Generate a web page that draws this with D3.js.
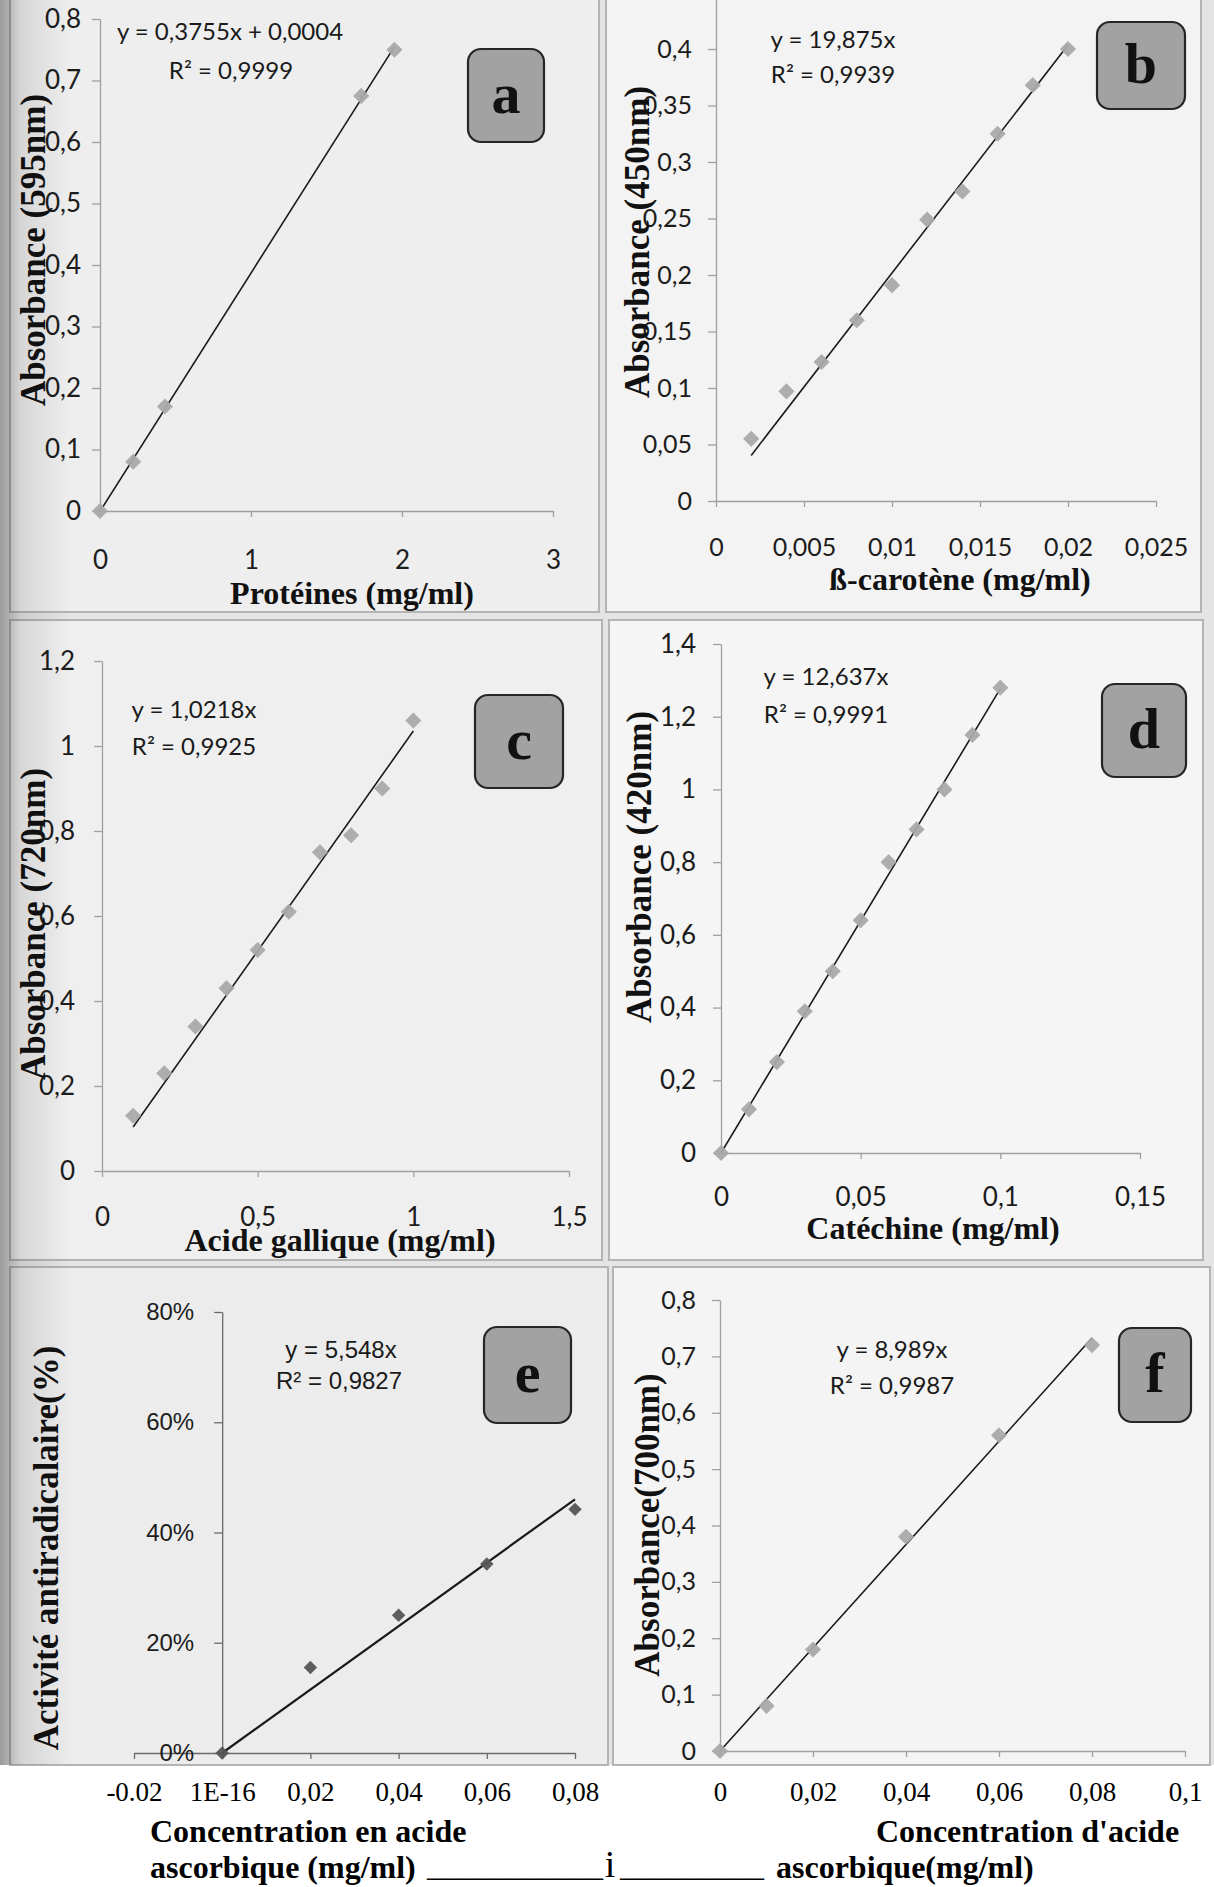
<!DOCTYPE html>
<html>
<head>
<meta charset="utf-8">
<script src="https://cdn.jsdelivr.net/npm/d3@7"></script>
<style>
  body { margin: 0; background: #fff; }
  svg { display: block; }
</style>
</head>
<body>
<div id="chart-area"></div>
<script>
// ---- data ----
// a : proteins (Bradford, 595 nm)
const protX = [0, 0.22, 0.43, 1.73, 1.95];
const protY = [0, 0.08, 0.17, 0.675, 0.75];
// b : beta-carotene (450 nm)
const caroX = [0.002, 0.004, 0.006, 0.008, 0.01, 0.012, 0.014, 0.016, 0.018, 0.02];
const caroY = [0.055, 0.097, 0.123, 0.16, 0.191, 0.249, 0.274, 0.325, 0.368, 0.40];
// c : gallic acid (720 nm)
const gallX = [0.1, 0.2, 0.3, 0.4, 0.5, 0.6, 0.7, 0.8, 0.9, 1.0];
const gallY = [0.13, 0.23, 0.34, 0.43, 0.52, 0.61, 0.75, 0.79, 0.90, 1.06];
// d : catechin (420 nm)
const catX = [0, 0.01, 0.02, 0.03, 0.04, 0.05, 0.06, 0.07, 0.08, 0.09, 0.1];
const catY = [0, 0.12, 0.25, 0.39, 0.50, 0.64, 0.80, 0.89, 1.00, 1.15, 1.28];
// e : antiradical activity of ascorbic acid
const dpphX = [0, 0.02, 0.04, 0.06, 0.08];
const dpphY = [0, 0.155, 0.25, 0.343, 0.442];
// f : reducing power of ascorbic acid (700 nm)
const redX = [0, 0.01, 0.02, 0.04, 0.06, 0.08];
const redY = [0, 0.08, 0.18, 0.38, 0.56, 0.72];

// tick values
const ticksAx = [0, 1, 2, 3];
const ticksAy = [0, 0.1, 0.2, 0.3, 0.4, 0.5, 0.6, 0.7, 0.8];
const ticksBx = [0, 0.005, 0.01, 0.015, 0.02, 0.025];
const ticksBy = [0, 0.05, 0.1, 0.15, 0.2, 0.25, 0.3, 0.35, 0.4];
const ticksCx = [0, 0.5, 1, 1.5];
const ticksCy = [0, 0.2, 0.4, 0.6, 0.8, 1, 1.2];
const ticksDx = [0, 0.05, 0.1, 0.15];
const ticksDy = [0, 0.2, 0.4, 0.6, 0.8, 1, 1.2, 1.4];
const ticksEx = [-0.02, 0, 0.02, 0.04, 0.06, 0.08];
const labelsEx = ["-0.02", "1E-16", "0,02", "0,04", "0,06", "0,08"];
const ticksEy = [0, 0.2, 0.4, 0.6, 0.8];
const ticksFx = [0, 0.02, 0.04, 0.06, 0.08, 0.1];
const ticksFy = [0, 0.1, 0.2, 0.3, 0.4, 0.5, 0.6, 0.7, 0.8];

// equations and titles
const eqA = ["y = 0,3755x + 0,0004", "R² = 0,9999"];
const eqB = ["y = 19,875x", "R² = 0,9939"];
const eqC = ["y = 1,0218x", "R² = 0,9925"];
const eqD = ["y = 12,637x", "R² = 0,9991"];
const eqE = ["y = 5,548x", "R² = 0,9827"];
const eqF = ["y = 8,989x", "R² = 0,9987"];

const W = 1214, H = 1887;
const serif = "'Liberation Serif', 'Times New Roman', serif";
const calibri = "Lato, 'Open Sans', sans-serif";
const arial = "'Liberation Sans', Arial, sans-serif";

const svg = d3.select("#chart-area")
  .append("svg")
  .attr("width", W)
  .attr("height", H);

// page background + scanner shadow on the left
const defs = svg.append("defs");
const shade = defs.append("linearGradient").attr("id", "shade");
shade.append("stop").attr("offset", "0%").attr("stop-color", "#000").attr("stop-opacity", 0.32);
shade.append("stop").attr("offset", "30%").attr("stop-color", "#000").attr("stop-opacity", 0.1);
shade.append("stop").attr("offset", "100%").attr("stop-color", "#000").attr("stop-opacity", 0);

svg.append("rect").attr("width", W).attr("height", H).attr("fill", "#e4e4e4");

const comma = d => (+d.toFixed(4)).toString().replace(".", ",");

// least squares fit (optionally through the origin), like the Excel trendline
function fit(xs, ys, origin) {
  if (origin) {
    const s = d3.sum(xs, (v, i) => v * ys[i]) / d3.sum(xs, v => v * v);
    return [s, 0];
  }
  const mx = d3.mean(xs), my = d3.mean(ys);
  const s = d3.sum(xs, (v, i) => (v - mx) * (ys[i] - my)) / d3.sum(xs, v => (v - mx) * (v - mx));
  return [s, my - s * mx];
}

function panel(p) {
  const g = svg.append("g");

  // frame
  g.append("rect")
    .attr("x", p.frame[0]).attr("y", p.frame[1])
    .attr("width", p.frame[2] - p.frame[0]).attr("height", p.frame[3] - p.frame[1])
    .attr("fill", p.bg).attr("stroke", "#b4b4b4").attr("stroke-width", 2);

  const x = d3.scaleLinear().domain(p.xDomain).range(p.xRange);
  const y = d3.scaleLinear().domain(p.yDomain).range(p.yRange);

  // x axis
  const xAxis = g.append("g")
    .attr("transform", `translate(0, ${y(0)})`)
    .call(d3.axisBottom(x)
      .tickValues(p.xTicks)
      .tickSize(6)
      .tickSizeOuter(0)
      .tickPadding(p.xPad)
      .tickFormat((d, i) => p.xLabels ? p.xLabels[i] : comma(d)));

  // y axis
  const yAxis = g.append("g")
    .attr("transform", `translate(${x(0)}, 0)`)
    .call(d3.axisLeft(y)
      .tickValues(p.yTicks)
      .tickSize(8)
      .tickSizeOuter(0)
      .tickPadding(p.yPad)
      .tickFormat(p.yFmt || comma));

  [xAxis, yAxis].forEach(a => {
    a.select(".domain").attr("stroke", p.axisColor).attr("stroke-width", 1.3);
    a.selectAll(".tick line").attr("stroke", p.axisColor).attr("stroke-width", 1.3);
  });
  xAxis.selectAll(".tick text")
    .attr("font-family", p.xFont || p.tickFont).attr("font-size", p.xFontSize || p.tickSize)
    .attr("fill", p.xFont ? "#000" : "#1c1c1c");
  yAxis.selectAll(".tick text")
    .attr("font-family", p.tickFont).attr("font-size", p.tickSize).attr("fill", "#1c1c1c");

  // trendline over the data range
  const [s, b] = fit(p.xs, p.ys, p.origin);
  const ext = d3.extent(p.xs);
  g.append("path")
    .datum(ext)
    .attr("d", d3.line().x(d => x(d)).y(d => y(s * d + b)))
    .attr("stroke", "#1a1a1a").attr("stroke-width", p.lineWidth || 1.6).attr("fill", "none");

  // diamond markers
  g.selectAll(".pt")
    .data(p.xs.map((v, i) => [v, p.ys[i]]))
    .join("path")
    .attr("class", "pt")
    .attr("d", d3.symbol().type(d3.symbolSquare).size(p.markerSize || 130))
    .attr("transform", d => `translate(${x(d[0])}, ${y(d[1])}) rotate(45)`)
    .attr("fill", p.markerColor || "#a9a9a9")
    .attr("opacity", 0.95);

  // equation label
  g.append("g").selectAll("text")
    .data(p.eq)
    .join("text")
    .attr("x", (d, i) => p.eqPos[i][0])
    .attr("y", (d, i) => p.eqPos[i][1])
    .attr("dy", "0.35em")
    .attr("text-anchor", "middle")
    .attr("font-family", p.eqFont || calibri)
    .attr("font-size", p.eqSize || 24)
    .attr("fill", "#1a1a1a")
    .text(d => d);

  // letter box
  const bx = p.box;
  g.append("rect")
    .attr("x", bx[0]).attr("y", bx[1])
    .attr("width", bx[2] - bx[0]).attr("height", bx[3] - bx[1])
    .attr("rx", 13)
    .attr("fill", "#a2a2a2").attr("stroke", "#262626").attr("stroke-width", 2.2);
  g.append("text")
    .attr("x", (bx[0] + bx[2]) / 2)
    .attr("y", (bx[1] + bx[3]) / 2)
    .attr("dy", "0.3em")
    .attr("text-anchor", "middle")
    .attr("font-family", serif).attr("font-weight", "bold")
    .attr("font-size", 58).attr("fill", "#111")
    .text(p.letter);

  // axis titles
  if (p.xTitle) {
    g.append("text")
      .attr("x", p.xTitlePos[0]).attr("y", p.xTitlePos[1])
      .attr("dy", "0.35em").attr("text-anchor", "middle")
      .attr("font-family", serif).attr("font-weight", "bold")
      .attr("font-size", 32).attr("fill", "#111")
      .text(p.xTitle);
  }
  g.append("text")
    .attr("transform", `translate(${p.yTitlePos[0]}, ${p.yTitlePos[1]}) rotate(-90)`)
    .attr("dy", "0.35em").attr("text-anchor", "middle")
    .attr("font-family", serif).attr("font-weight", "bold")
    .attr("font-size", p.yTitleSize || 35).attr("fill", "#111")
    .text(p.yTitle);
}

// bottom white strip where the scan was patched
svg.append("rect").attr("x", 0).attr("y", 1765).attr("width", W).attr("height", H - 1765).attr("fill", "#fff");

panel({
  frame: [10, -2, 599, 612], bg: "#eeeeee", axisColor: "#a0a0a0",
  xs: protX, ys: protY, origin: false,
  xDomain: [0, 3], xRange: [100, 553], yDomain: [0, 0.8], yRange: [511, 19],
  xTicks: ticksAx, yTicks: ticksAy, xPad: 34, yPad: 11,
  tickFont: calibri, tickSize: 26,
  eq: eqA, eqPos: [[230, 32], [231, 71]],
  box: [468, 49, 544, 142], letter: "a",
  xTitle: "Protéines (mg/ml)", xTitlePos: [352, 593],
  yTitle: "Absorbance (595nm)", yTitlePos: [33, 250]
});

panel({
  frame: [606, -2, 1201, 612], bg: "#f3f3f3", axisColor: "#a0a0a0",
  xs: caroX, ys: caroY, origin: true,
  xDomain: [0, 0.025], xRange: [716, 1156], yDomain: [0, 0.45], yRange: [501, -7.5],
  xTicks: ticksBx, yTicks: ticksBy, xPad: 31, yPad: 16,
  tickFont: calibri, tickSize: 25,
  eq: eqB, eqPos: [[833, 40], [833, 75]],
  box: [1097, 22, 1185, 109], letter: "b",
  xTitle: "ß-carotène (mg/ml)", xTitlePos: [960, 579],
  yTitle: "Absorbance (450nm)", yTitlePos: [637, 242]
});

panel({
  frame: [10, 620, 602, 1260], bg: "#efefef", axisColor: "#a0a0a0",
  xs: gallX, ys: gallY, origin: true,
  xDomain: [0, 1.5], xRange: [102, 569], yDomain: [0, 1.2], yRange: [1171, 661],
  xTicks: ticksCx, yTicks: ticksCy, xPad: 31, yPad: 19,
  tickFont: calibri, tickSize: 26,
  eq: eqC, eqPos: [[194, 710], [194, 747]],
  box: [475, 695, 563, 788], letter: "c",
  xTitle: "Acide gallique (mg/ml)", xTitlePos: [340, 1240],
  yTitle: "Absorbance (720nm)", yTitlePos: [33, 924]
});

panel({
  frame: [609, 620, 1203, 1260], bg: "#f5f5f5", axisColor: "#a0a0a0",
  xs: catX, ys: catY, origin: true,
  xDomain: [0, 0.15], xRange: [721, 1140], yDomain: [0, 1.4], yRange: [1153, 644],
  xTicks: ticksDx, yTicks: ticksDy, xPad: 29, yPad: 17,
  tickFont: calibri, tickSize: 26,
  eq: eqD, eqPos: [[826, 677], [826, 715]],
  box: [1102, 684, 1186, 777], letter: "d",
  xTitle: "Catéchine (mg/ml)", xTitlePos: [933, 1228],
  yTitle: "Absorbance (420nm)", yTitlePos: [639, 867]
});

panel({
  frame: [10, 1267, 608, 1765], bg: "#ececec", axisColor: "#6a6a6a",
  xs: dpphX, ys: dpphY, origin: true,
  xDomain: [-0.02, 0.08], xRange: [134, 575], yDomain: [0, 0.8], yRange: [1753, 1312],
  xTicks: ticksEx, xLabels: labelsEx, yTicks: ticksEy, xPad: 23, yPad: 20,
  yFmt: d => Math.round(d * 100) + "%",
  tickFont: arial, tickSize: 24, xFont: serif, xFontSize: 27,
  markerColor: "#555", markerSize: 90, lineWidth: 2.2,
  eq: eqE, eqPos: [[341, 1350], [339, 1381]], eqFont: arial, eqSize: 24,
  box: [484, 1327, 571, 1423], letter: "e",
  yTitle: "Activité antiradicalaire(%)", yTitlePos: [46, 1548], yTitleSize: 35
});

panel({
  frame: [613, 1267, 1210, 1765], bg: "#f4f4f4", axisColor: "#a0a0a0",
  xs: redX, ys: redY, origin: true,
  xDomain: [0, 0.1], xRange: [720, 1185], yDomain: [0, 0.8], yRange: [1751, 1300],
  xTicks: ticksFx, yTicks: ticksFy, xPad: 25, yPad: 16,
  tickFont: calibri, tickSize: 25, xFont: serif, xFontSize: 27,
  eq: eqF, eqPos: [[892, 1350], [892, 1386]],
  box: [1119, 1328, 1191, 1422], letter: "f",
  yTitle: "Absorbance(700nm)", yTitlePos: [647, 1525]
});

// scanner shadow on the left edge
svg.append("rect").attr("x", 0).attr("y", 0).attr("width", 70).attr("height", 1765)
  .attr("fill", "url(#shade)");

// bottom captions typed under panels e and f
const caption = svg.append("g")
  .attr("font-family", serif).attr("font-weight", "bold")
  .attr("font-size", 32).attr("fill", "#000");
caption.append("text").attr("x", 150).attr("y", 1842).text("Concentration en acide");
caption.append("text").attr("x", 150).attr("y", 1878).text("ascorbique (mg/ml)");
caption.append("text").attr("x", 427).attr("y", 1876).attr("font-weight", "normal").text("___________");
caption.append("text").attr("x", 610).attr("y", 1877).attr("text-anchor", "middle")
  .attr("font-weight", "normal").attr("font-size", 38).text("i");
caption.append("text").attr("x", 620).attr("y", 1876).attr("font-weight", "normal").text("_________");
caption.append("text").attr("x", 776).attr("y", 1878).text("ascorbique(mg/ml)");
caption.append("text").attr("x", 876).attr("y", 1842).text("Concentration d'acide");
</script>
</body>
</html>
